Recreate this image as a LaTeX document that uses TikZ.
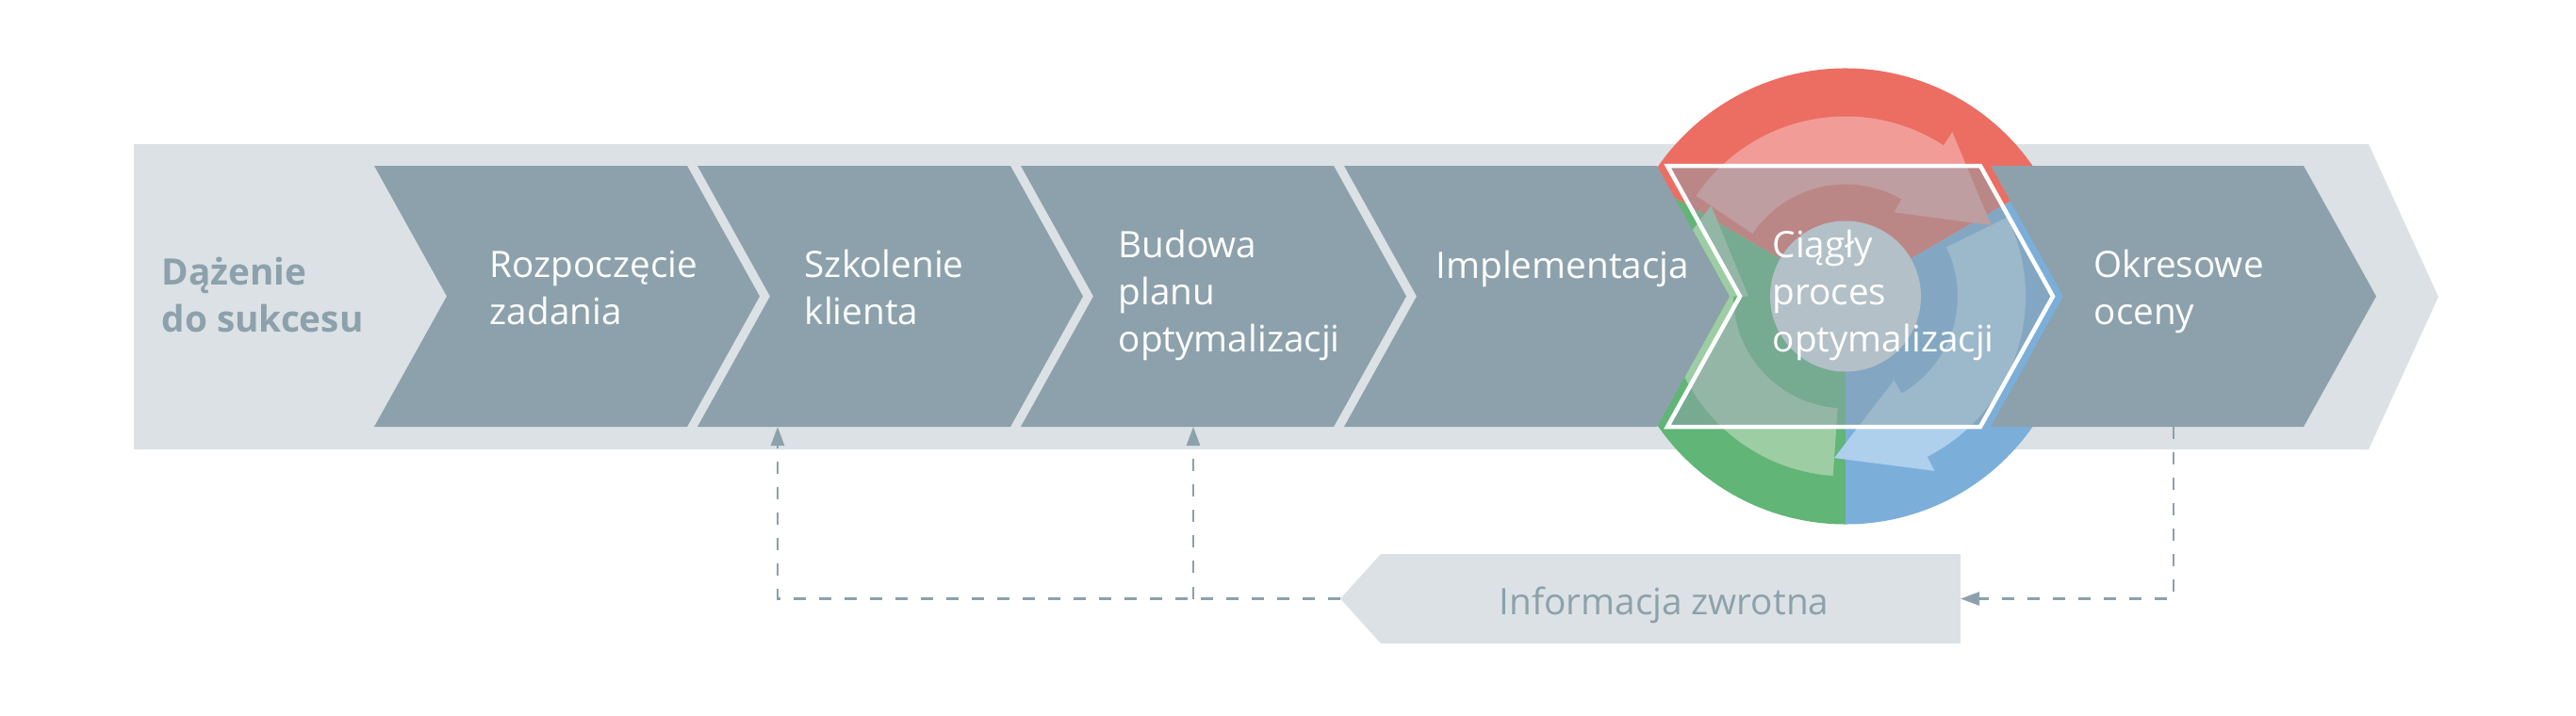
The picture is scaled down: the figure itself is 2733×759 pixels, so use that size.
\documentclass[tikz,border=0pt]{standalone}
\usepackage{fontspec}
\setmainfont{Open Sans}
\usepackage{tikz}
\usetikzlibrary{calc, arrows.meta}

\definecolor{pasek}{HTML}{DCE1E5}
\definecolor{etapszary}{HTML}{8CA1AB}
\definecolor{kczerw}{HTML}{EC6D62}
\definecolor{kczerwj}{HTML}{F19C97}
\definecolor{kziel}{HTML}{61B577}
\definecolor{kzielj}{HTML}{9DCDA2}
\definecolor{knieb}{HTML}{7BAFDA}
\definecolor{kniebj}{HTML}{AED0EC}

\tikzset{
	etap/.style={anchor=base west, align=left, inner sep=0pt, text=white, font=\fontsize{11}{14.1}\selectfont},
	zwrot/.style={draw=etapszary, line width=0.027cm, dash pattern=on 0.13cm off 0.14cm},
}

\begin{document}
\begin{tikzpicture}[x=0.01cm, y=0.01cm]
					\useasboundingbox (0,0) rectangle (2733,759);
					\def\yT{583};
					\def\yB{306};
					\def\yM{444.5};
					
					% tlo
					\fill[pasek] (142,282) -- (142,606) -- (2513,606) -- (2587,444) -- (2513,282) -- cycle;
					
					% kolo
					\begin{scope}[shift={(1958,\yM)}]
						\fill[kczerw] (0,0) -- (30:242) arc[start angle=30, end angle=150, radius=242] -- cycle;
						\fill[kziel] (0,0) -- (150:242) arc[start angle=150, end angle=270, radius=242] -- cycle;
						\fill[knieb] (0,0) -- (270:242) arc[start angle=270, end angle=390, radius=242] -- cycle;
						\foreach \r/\c in {0/kczerwj, -120/kniebj, -240/kzielj}
							\fill[\c, rotate=\r] (146:191) arc[start angle=146, end angle=57, radius=191] -- (57:208) -- (26:172) -- (60:103) -- (60:119) arc[start angle=60, end angle=146, radius=119] -- cycle;
						\fill[pasek] (0,0) circle[radius=80];
					\end{scope}
					
					% etapy
					\foreach \L in {397,740,1083,1426,2112}
						\fill[etapszary] (\L,\yT) -- ++(332,0) -- ++(77,-138.5) -- ++(-77,-138.5) -- ++(-332,0) -- ++(77,138.5) -- cycle;
					\fill[etapszary, fill opacity=0.5] (1769,\yT) -- ++(332,0) -- ++(77,-138.5) -- ++(-77,-138.5) -- ++(-332,0) -- ++(77,138.5) -- cycle;
					\draw[white, line width=0.045cm] (1769,\yT) -- ++(332,0) -- ++(77,-138.5) -- ++(-77,-138.5) -- ++(-332,0) -- ++(77,138.5) -- cycle;
					
					% base = ostatnia linia
					\node[etap, text=etapszary, font=\fontsize{11}{14.1}\selectfont\bfseries] (dazenie) at (171,407) {Dążenie\\do sukcesu};
					\node[etap] (rozp) at (519,415) {Rozpoczęcie\\zadania};
					\node[etap] (szkol) at (853,415) {Szkolenie\\klienta};
					\node[etap] (budowa) at (1186,386) {Budowa\\planu\\optymalizacji};
					\node[etap] (impl) at (1523,464) {Implementacja};
					\node[etap] (ciagly) at (1880,386) {Ciągły\\proces\\optymalizacji};
					\node[etap] (okres) at (2221,415) {Okresowe\\oceny};
					
					% informacja zwrotna
					\fill[pasek] (1422,123.5) -- (1465,171) -- (2080,171) -- (2080,76) -- (1465,76) -- cycle;
					\node[etap, text=etapszary] (info) at (1590,107) {Informacja zwrotna};
					\coordinate (fbL) at (1422,123.5);
					\coordinate (fbR) at (2080,123.5);
					\coordinate (szkolB) at (825,\yB);
					\coordinate (budowaB) at (1266,\yB);
					\coordinate (okresB) at (2306,\yB);
					
					\begin{scope}[-{Stealth[length=0.2cm, width=0.14cm, inset=0pt]}]
						\draw[zwrot] (fbL) -| (szkolB);
						\draw[zwrot] (fbL -| budowaB) -- (budowaB);
						\draw[zwrot] (okresB) |- (fbR);
					\end{scope}
				\end{tikzpicture}
\end{document}
